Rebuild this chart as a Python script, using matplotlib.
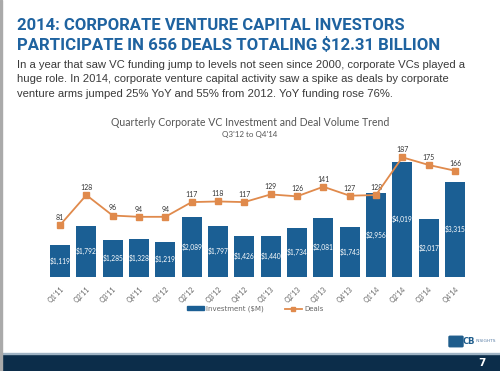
import matplotlib
matplotlib.use("Agg")
import matplotlib.pyplot as plt
import numpy as np
from matplotlib.patches import Rectangle, FancyBboxPatch
from matplotlib.lines import Line2D

quarters = ["Q1'11", "Q2'11", "Q3'11", "Q4'11", "Q1'12", "Q2'12", "Q3'12", "Q4'12",
            "Q1'13", "Q2'13", "Q3'13", "Q4'13", "Q1'14", "Q2'14", "Q3'14", "Q4'14"]
investment = [1119, 1792, 1285, 1328, 1219, 2089, 1797, 1426,
              1440, 1734, 2081, 1743, 2956, 4019, 2017, 3315]
deals = [81, 128, 96, 94, 94, 117, 118, 117,
         129, 126, 141, 127, 128, 187, 175, 166]

BLUE = '#1b5f94'
ORANGE = '#e08a4c'
TITLE_BLUE = '#1f63a0'
W, H = 500, 371

fig = plt.figure(figsize=(W / 100, H / 100), dpi=100)
fig.patch.set_facecolor('white')
renderer = fig.canvas.get_renderer()


def fx(px):
    return px / W


def fy(py):
    return 1 - py / H


def fit_width(t, target_px):
    # shrink a text until it spans target_px
    w = t.get_window_extent(renderer).width
    t.set_fontsize(t.get_fontsize() * target_px / w)


# headline
head_font = ['Liberation Sans Narrow', 'Roboto', 'DejaVu Sans']
h1 = fig.text(fx(17), fy(25), "2014: CORPORATE VENTURE CAPITAL INVESTORS", color=TITLE_BLUE,
              family=head_font, weight='bold', fontsize=15, va='center')
h2 = fig.text(fx(17), fy(45), "PARTICIPATE IN 656 DEALS TOTALING $12.31 BILLION", color=TITLE_BLUE,
              family=head_font, weight='bold', fontsize=15, va='center')
fit_width(h1, 389)
fit_width(h2, 424)

sub = ["In a year that saw VC funding jump to levels not seen since 2000, corporate VCs played a",
       "huge role. In 2014, corporate venture capital activity saw a spike as deals by corporate",
       "venture arms jumped 25% YoY and 55% from 2012. YoY funding rose 76%."]
for i, line in enumerate(sub):
    t = fig.text(fx(17), fy(65 + i * 14.5), line, color='#3a3a3a', family='Liberation Sans',
                 fontsize=8.6, va='center')
    if i == 0:
        fit_width(t, 443)
        sub_size = t.get_fontsize()
    else:
        t.set_fontsize(sub_size)

# chart title
fig.text(0.5, fy(123), "Quarterly Corporate VC Investment and Deal Volume Trend", color='#555555',
         family='Lato', fontsize=7.6, ha='center', va='center')
fig.text(0.5, fy(134), "Q3'12 to Q4'14", color='#555555', family='Lato', fontsize=5.8,
         ha='center', va='center')

# chart
ax = fig.add_axes([44.2 / W, 1 - 277 / H, 426.6 / W, 137 / H])
x = np.arange(len(quarters))
ax.bar(x, investment, width=0.76, color=BLUE, zorder=2)
ax.set_ylim(0, 4800)
ax.set_xlim(-0.6, 15.6)
for xi, v in zip(x, investment):
    ax.text(xi, v / 2, f"${v:,}", color='white', ha='center', va='center', fontsize=4.8,
            family='Lato', zorder=3)

ax2 = ax.twinx()
ax2.plot(x, deals, color=ORANGE, lw=1.3, marker='s', ms=4, zorder=4)
ax2.set_ylim(0, 214)
for xi, d in zip(x, deals):
    ax2.text(xi, d + 12, str(d), ha='center', va='center', fontsize=5, color='#333333',
             family='Lato')

for a in (ax, ax2):
    for s in a.spines.values():
        s.set_visible(False)
    a.set_yticks([])
ax.set_xticks(x)
ax.set_xticklabels(quarters, rotation=45, ha='right', rotation_mode='anchor',
                   fontsize=5, color='#666666', family='Lato')
ax.tick_params(axis='x', length=0, pad=6)
ax.axhline(0, color='#dddddd', lw=0.6, zorder=1)

# legend
handles = [Rectangle((0, 0), 1, 1, color=BLUE),
           Line2D([0], [0], color=ORANGE, lw=1.3, marker='s', ms=3)]
fig.legend(handles, ["Investment ($M)", "Deals"], loc='center', bbox_to_anchor=(fx(255), fy(309)),
           ncol=2, frameon=False, fontsize=5, handlelength=2.5, handleheight=0.5,
           columnspacing=3, handletextpad=0.3, labelcolor='#666666')

# logo
fig.patches.append(FancyBboxPatch((fx(450), fy(346)), fx(12), 9 / H, boxstyle='round,pad=0.002',
                                  transform=fig.transFigure, color='#1f5d8c'))
fig.text(fx(463), fy(341), "CB", color='#1f5d8c', weight='bold', fontsize=6, va='center')
fig.text(fx(476), fy(341), "INSIGHTS", color='#5a7fa6', fontsize=3.2, va='center')

# footer band and border
fig.patches.append(Rectangle((0, 0), 1, 17 / H, transform=fig.transFigure, color='#0c2d4a'))
fig.patches.append(Rectangle((0, 17 / H), 1, 1.2 / H, transform=fig.transFigure, color='#9fb3c4'))
fig.patches.append(Rectangle((0, 0), 2 / W, 1, transform=fig.transFigure, color='#aaaaaa'))
fig.text(fx(482), fy(363), "7", color='white', weight='bold', fontsize=7.5, ha='center', va='center')

fig.savefig('out.png', dpi=100)
